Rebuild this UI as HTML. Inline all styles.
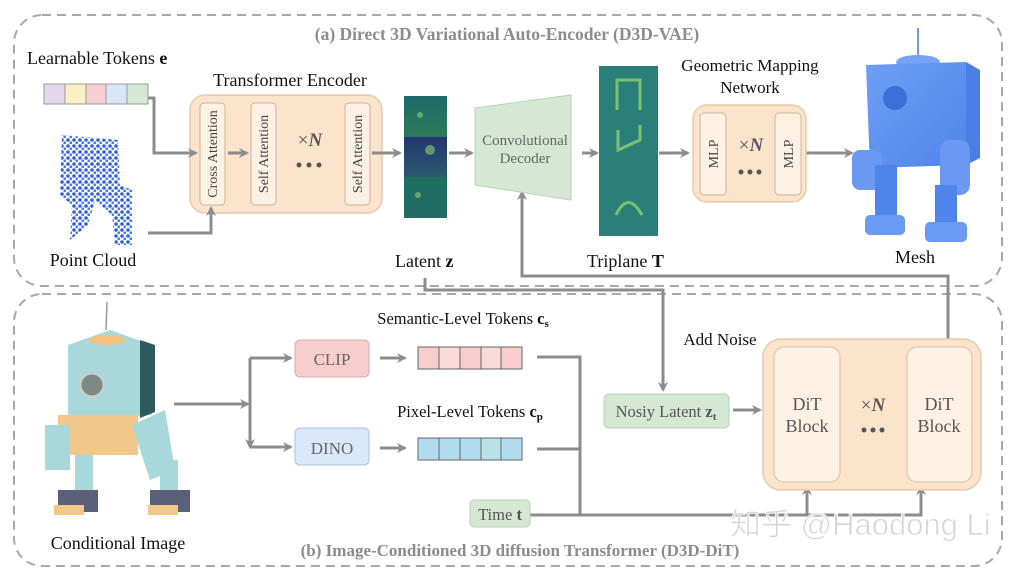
<!DOCTYPE html>
<html><head><meta charset="utf-8"><style>
html,body{margin:0;padding:0;background:#fff;}
svg{display:block;font-family:"Liberation Serif",serif;}
</style></head><body>
<svg width="1011" height="572" viewBox="0 0 1011 572" xmlns="http://www.w3.org/2000/svg">
<defs>
<marker id="a" markerWidth="10" markerHeight="10" refX="8" refY="5" orient="auto" markerUnits="userSpaceOnUse"><path d="M0,0 L10,5 L0,10 L3,5 Z" fill="#8c8c8c"/></marker>
<pattern id="pc" width="6" height="6" patternUnits="userSpaceOnUse"><circle cx="2" cy="2" r="1.8" fill="#2e5fe0"/><circle cx="5" cy="5" r="1.6" fill="#4a7af0"/></pattern>
<linearGradient id="lat" x1="0" y1="0" x2="0" y2="1"><stop offset="0" stop-color="#1d6a6a"/><stop offset="0.33" stop-color="#2c7a5a"/><stop offset="0.34" stop-color="#24356e"/><stop offset="0.66" stop-color="#2a5a70"/><stop offset="0.67" stop-color="#1d7060"/><stop offset="1" stop-color="#236b66"/></linearGradient>
<linearGradient id="mesh" x1="0" y1="0" x2="1" y2="1"><stop offset="0" stop-color="#6e9ef5"/><stop offset="1" stop-color="#4f85ea"/></linearGradient>
</defs>
<rect x="0" y="0" width="1011" height="572" fill="#fff"/>
<rect x="14" y="15" width="988" height="271" rx="28" fill="none" stroke="#a8a8a8" stroke-width="2" stroke-dasharray="9,6"/>
<rect x="14" y="294" width="988" height="272" rx="28" fill="none" stroke="#a8a8a8" stroke-width="2" stroke-dasharray="9,6"/>
<text x="507" y="40" text-anchor="middle" font-size="17.5" font-weight="bold" fill="#8c8c8c">(a) Direct 3D Variational Auto-Encoder (D3D-VAE)</text>
<text x="27" y="64" font-size="18" fill="#111">Learnable Tokens <tspan font-weight="bold">e</tspan></text>
<g stroke="#9a9a9a" stroke-width="1">
<rect x="44" y="84" width="21" height="20" fill="#e3d7ea"/><rect x="65" y="84" width="21" height="20" fill="#fbf0c4"/><rect x="86" y="84" width="20" height="20" fill="#f6cfd0"/><rect x="106" y="84" width="21" height="20" fill="#d8e6f7"/><rect x="127" y="84" width="21" height="20" fill="#d5e8d4"/></g>
<text x="290" y="86" text-anchor="middle" font-size="18" fill="#111">Transformer Encoder</text>
<rect x="190" y="95" width="192" height="118" rx="15" fill="#fce3cc" stroke="#e8caa9" stroke-width="1.5"/>
<g fill="#fdf1e3" stroke="#c9b49c" stroke-width="1"><rect x="200" y="103" width="25" height="102" rx="4"/><rect x="251" y="103" width="25" height="102" rx="4"/><rect x="345" y="103" width="25" height="102" rx="4"/></g>
<g font-size="14" fill="#444"><text transform="translate(217,154) rotate(-90)" text-anchor="middle">Cross Attention</text><text transform="translate(268,154) rotate(-90)" text-anchor="middle">Self Attention</text><text transform="translate(362,154) rotate(-90)" text-anchor="middle">Self Attention</text></g>
<text x="310" y="146" text-anchor="middle" font-size="19" fill="#555">×<tspan font-style="italic" font-weight="bold">N</tspan></text>
<g fill="#555"><circle cx="299" cy="165" r="2.5"/><circle cx="309" cy="165" r="2.5"/><circle cx="319" cy="165" r="2.5"/></g>
<g stroke="#8c8c8c" stroke-width="3" fill="none" marker-end="url(#a)">
<path d="M148,98 H154 V153 H196"/><path d="M148,233 H211 V208"/><path d="M228,153 H247"/><path d="M372,153 H400"/><path d="M449,153 H472"/><path d="M582,153 H597"/><path d="M659,153 H688"/><path d="M806,153 H852"/>
<path d="M425,278 V290 H663 V390"/><path d="M733,410 H760"/><path d="M948,340 V276 H522 V192"/>
<path d="M174,404 H248"/><path d="M250,358 V447"/><path d="M250,358 H291"/><path d="M250,447 H291"/>
<path d="M380,358 H405"/><path d="M380,448 H405"/>
<path d="M530,515 H921 V487"/><path d="M807,515 V487"/></g>
<g stroke="#8c8c8c" stroke-width="3" fill="none"><path d="M537,357 H580 V515"/><path d="M537,449 H580"/></g>
<path d="M62,135 L118,140 L120,185 L132,190 L132,245 L115,245 L112,215 L95,200 L88,225 L70,240 L72,205 L60,195 Z" fill="url(#pc)"/>
<text x="93" y="266" text-anchor="middle" font-size="18" fill="#111">Point Cloud</text>
<rect x="404" y="96" width="43" height="122" fill="url(#lat)"/>
<g fill="#8fd070" opacity="0.6"><circle cx="420" cy="115" r="3"/><circle cx="430" cy="150" r="5"/><circle cx="418" cy="195" r="3"/></g>
<text x="395" y="267" font-size="18" fill="#111">Latent <tspan font-weight="bold">z</tspan></text>
<path d="M475,108 L571,95 L571,200 L475,185 Z" fill="#d5e8d4" stroke="#b9d1b7"/>
<text x="525" y="145" text-anchor="middle" font-size="15" fill="#666">Convolutional</text>
<text x="525" y="163" text-anchor="middle" font-size="15" fill="#666">Decoder</text>
<rect x="599" y="66" width="59" height="170" fill="#2a7f7a"/>
<g fill="none" stroke="#8ed36a" stroke-width="3" opacity="0.8"><path d="M617,110 V80 H640 V110"/><path d="M618,130 V150 L640,140 V125"/><path d="M616,215 Q628,190 642,215"/></g>
<text x="587" y="267" font-size="18" fill="#111">Triplane <tspan font-weight="bold">T</tspan></text>
<text x="750" y="71" text-anchor="middle" font-size="17" fill="#111">Geometric Mapping</text>
<text x="750" y="93" text-anchor="middle" font-size="17" fill="#111">Network</text>
<rect x="693" y="105" width="113" height="97" rx="14" fill="#fce3cc" stroke="#e8caa9" stroke-width="1.5"/>
<g fill="#fdf1e3" stroke="#c9b49c"><rect x="700" y="113" width="26" height="82" rx="4"/><rect x="775" y="113" width="26" height="82" rx="4"/></g>
<g font-size="14" fill="#444"><text transform="translate(718,154) rotate(-90)" text-anchor="middle">MLP</text><text transform="translate(793,154) rotate(-90)" text-anchor="middle">MLP</text></g>
<text x="751" y="151" text-anchor="middle" font-size="19" fill="#555">×<tspan font-style="italic" font-weight="bold">N</tspan></text>
<g fill="#555"><circle cx="741" cy="172" r="2.5"/><circle cx="750" cy="172" r="2.5"/><circle cx="759" cy="172" r="2.5"/></g>
<g fill="url(#mesh)">
<rect x="917" y="28" width="2" height="35" fill="#6b9af2"/>
<ellipse cx="918" cy="62" rx="22" ry="7" fill="#77a3f4"/>
<path d="M866,65 L966,62 L966,165 L870,168 Z"/>
<path d="M966,62 L980,70 L980,158 L966,165 Z" fill="#4a7ee6"/>
<circle cx="895" cy="98" r="12" fill="#3e6fd6"/>
<rect x="852" y="150" width="30" height="40" rx="8" fill="#6a98f2"/>
<rect x="940" y="140" width="30" height="55" rx="10" fill="#6a98f2"/>
<rect x="875" y="165" width="22" height="60" fill="#4f85ea"/>
<rect x="935" y="185" width="22" height="40" fill="#4f85ea"/>
<rect x="865" y="215" width="40" height="20" rx="5" fill="#6a9af2"/>
<rect x="925" y="222" width="42" height="20" rx="5" fill="#6a9af2"/>
</g>
<text x="915" y="263" text-anchor="middle" font-size="18" fill="#111">Mesh</text>
<g>
<line x1="107" y1="302" x2="106" y2="330" stroke="#999" stroke-width="1.5"/>
<path d="M68,345 L110,330 L152,345 L152,415 L68,420 Z" fill="#a9d8dc"/>
<path d="M140,340 L155,345 L155,412 L140,418 Z" fill="#2d5a5c"/>
<ellipse cx="107" cy="340" rx="18" ry="5" fill="#f2c27e"/>
<circle cx="92" cy="385" r="12" fill="#7d8a86" stroke="#c4d0cc" stroke-width="3"/>
<rect x="58" y="415" width="80" height="40" fill="#f2c78a"/>
<rect x="45" y="425" width="25" height="45" fill="#a9d8dc"/>
<path d="M132,425 L165,410 L175,470 L150,480 Z" fill="#a9d8dc"/>
<rect x="75" y="455" width="18" height="35" fill="#a9d8dc"/><rect x="160" y="460" width="18" height="35" fill="#a9d8dc"/>
<rect x="58" y="490" width="40" height="22" fill="#5a5f7a"/><rect x="150" y="490" width="40" height="22" fill="#5a5f7a"/>
<rect x="54" y="505" width="30" height="10" fill="#f2c78a"/><rect x="148" y="505" width="30" height="10" fill="#f2c78a"/>
</g>
<text x="118" y="549" text-anchor="middle" font-size="18" fill="#111">Conditional Image</text>
<rect x="295" y="340" width="74" height="37" rx="5" fill="#f8cecc" stroke="#dba9a7"/>
<text x="332" y="365" text-anchor="middle" font-size="17" fill="#666">CLIP</text>
<rect x="295" y="428" width="74" height="37" rx="5" fill="#dae8fc" stroke="#a9c0e2"/>
<text x="332" y="454" text-anchor="middle" font-size="17" fill="#666">DINO</text>
<text x="463" y="324" text-anchor="middle" font-size="16.5" fill="#111">Semantic-Level Tokens <tspan font-weight="bold">c</tspan><tspan font-weight="bold" font-size="11" dy="3">s</tspan></text>
<text x="470" y="417" text-anchor="middle" font-size="16.5" fill="#111">Pixel-Level Tokens <tspan font-weight="bold">c</tspan><tspan font-weight="bold" font-size="11" dy="3">p</tspan></text>
<g stroke="#666" stroke-width="1"><rect x="418" y="347" width="21" height="22" fill="#f8cecc"/><rect x="439" y="347" width="21" height="22" fill="#f8dad8"/><rect x="460" y="347" width="21" height="22" fill="#f8cecc"/><rect x="481" y="347" width="20" height="22" fill="#f8dad8"/><rect x="501" y="347" width="21" height="22" fill="#f8cecc"/>
<rect x="418" y="438" width="21" height="22" fill="#b1dcef"/><rect x="439" y="438" width="21" height="22" fill="#b1dcef"/><rect x="460" y="438" width="21" height="22" fill="#b1dcef"/><rect x="481" y="438" width="20" height="22" fill="#b7e2e6"/><rect x="501" y="438" width="21" height="22" fill="#b1dcef"/></g>
<text x="720" y="345" text-anchor="middle" font-size="17" fill="#111">Add Noise</text>
<rect x="604" y="394" width="125" height="34" rx="5" fill="#d5e8d4" stroke="#b9d1b7"/>
<text x="666" y="417" text-anchor="middle" font-size="16.5" fill="#555">Nosiy Latent <tspan font-weight="bold">z</tspan><tspan font-weight="bold" font-size="11" dy="3">t</tspan></text>
<rect x="470" y="500" width="60" height="27" rx="4" fill="#d5e8d4" stroke="#b9d1b7"/>
<text x="500" y="520" text-anchor="middle" font-size="16.5" fill="#555">Time <tspan font-weight="bold">t</tspan></text>
<rect x="763" y="339" width="218" height="151" rx="18" fill="#fce3cc" stroke="#e8caa9" stroke-width="1.5"/>
<g fill="#fdf1e3" stroke="#d8bfa3"><rect x="774" y="347" width="66" height="135" rx="10"/><rect x="907" y="347" width="65" height="135" rx="10"/></g>
<g font-size="18" fill="#555" text-anchor="middle"><text x="807" y="410">DiT</text><text x="807" y="432">Block</text><text x="939" y="410">DiT</text><text x="939" y="432">Block</text></g>
<text x="873" y="411" text-anchor="middle" font-size="19" fill="#555">×<tspan font-style="italic" font-weight="bold">N</tspan></text>
<g fill="#555"><circle cx="864" cy="430" r="2.5"/><circle cx="873" cy="430" r="2.5"/><circle cx="882" cy="430" r="2.5"/></g>
<text x="520" y="556" text-anchor="middle" font-size="17" font-weight="bold" fill="#8c8c8c">(b) Image-Conditioned 3D diffusion Transformer (D3D-DiT)</text>
<text x="730" y="535" font-family="Liberation Sans,Noto Sans CJK SC,sans-serif" font-size="31" fill="#d4d4d4" stroke="#ffffff" stroke-width="0.8">知乎 @Haodong Li</text>
</svg>
</body></html>
